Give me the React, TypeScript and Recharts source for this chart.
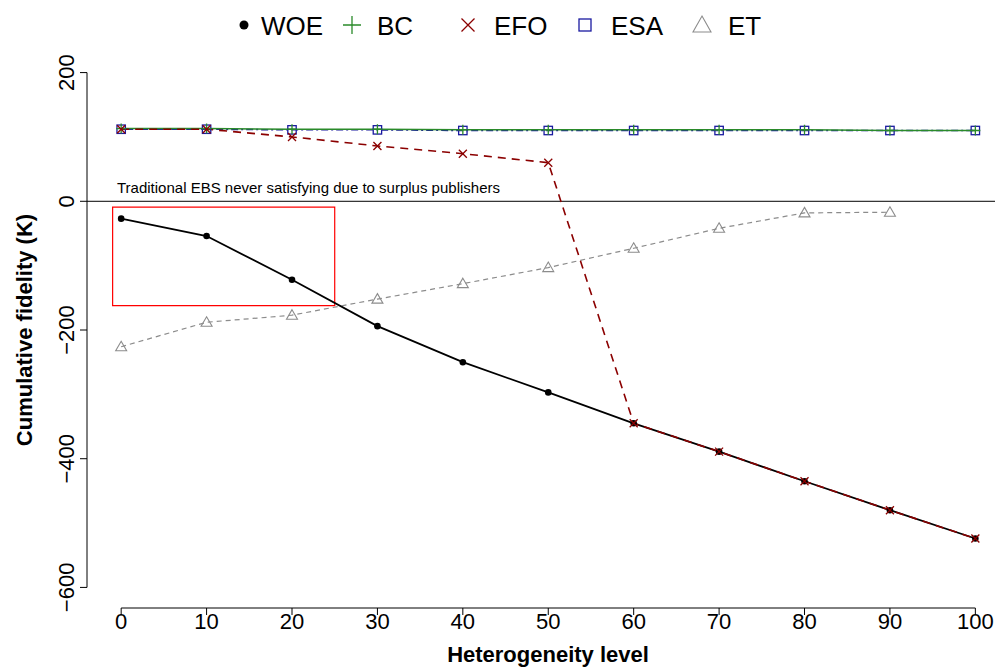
import React from 'react';
import {
  LineChart,
  Line,
  XAxis,
  YAxis,
  ReferenceLine,
  ReferenceArea,
} from 'recharts';

// values
const heterogeneity = [0, 10, 20, 30, 40, 50, 60, 70, 80, 90, 100];
const woe = [-27, -54, -122, -194, -250, -297, -345, -389, -435, -480, -524];
const bc = [113, 113, 112, 112, 111, 111, 111, 111, 111, 110, 110];
const efo = [112, 112, 100, 86, 74, 60, -345, -389, -435, -480, -524];
const esa = [112, 112, 111, 111, 110, 110, 110, 110, 110, 110, 110];
const et = [-226, -188, -177, -152, -128, -103, -73, -42, -18, -17, null];

const xTicks = [0, 10, 20, 30, 40, 50, 60, 70, 80, 90, 100];
const yTicks = [-600, -400, -200, 0, 200];

const data = heterogeneity.map((x, i) => ({
  x,
  woe: woe[i],
  bc: bc[i],
  efo: efo[i],
  esa: esa[i],
  et: et[i],
}));

const FONT = '"Liberation Sans", Arial, Helvetica, sans-serif';

const GREEN = '#2a8a2a';
const RED = '#8b0000';
const BLUE = '#1a1aa0';
const GREY = '#8c8c8c';

const fmt = (v: number) => (v < 0 ? '\u2212' + Math.abs(v) : String(v));

const DotMark = (p: any) => (
  <circle key={`w${p.index}`} cx={p.cx} cy={p.cy} r={3.3} fill="#000" />
);
const PlusMark = (p: any) => (
  <path
    key={`b${p.index}`}
    d={`M${p.cx - 5},${p.cy}H${p.cx + 5}M${p.cx},${p.cy - 5}V${p.cy + 5}`}
    stroke={GREEN}
    strokeWidth={1.3}
    fill="none"
  />
);
const CrossMark = (p: any) => (
  <path
    key={`e${p.index}`}
    d={`M${p.cx - 4},${p.cy - 4}L${p.cx + 4},${p.cy + 4}M${p.cx - 4},${p.cy + 4}L${p.cx + 4},${p.cy - 4}`}
    stroke={RED}
    strokeWidth={1.3}
    fill="none"
  />
);
const SquareMark = (p: any) => (
  <rect
    key={`s${p.index}`}
    x={p.cx - 4.2}
    y={p.cy - 4.2}
    width={8.4}
    height={8.4}
    stroke={BLUE}
    strokeWidth={1.3}
    fill="none"
  />
);
const TriMark = (p: any) =>
  p.cy == null || isNaN(p.cy) ? (
    <g key={`t${p.index}`} />
  ) : (
    <path
      key={`t${p.index}`}
      d={`M${p.cx},${p.cy - 5.5}L${p.cx + 5.5},${p.cy + 4}L${p.cx - 5.5},${p.cy + 4}Z`}
      stroke={GREY}
      strokeWidth={1.1}
      fill="none"
    />
  );

const XTick = (p: any) => (
  <text x={p.x} y={p.y + 12} textAnchor="middle" fontSize={22} fontFamily={FONT} fill="#000">
    {fmt(p.payload.value)}
  </text>
);

const YTick = (p: any) => (
  <text
    x={74}
    y={p.y}
    transform={`rotate(-90, 74, ${p.y})`}
    textAnchor="middle"
    fontSize={22}
    fontFamily={FONT}
    fill="#000"
  >
    {fmt(p.payload.value)}
  </text>
);

const NoteLabel = (p: any) => {
  const vb = p.viewBox || {};
  return (
    <text x={vb.x + 30} y={vb.y - 8} fontSize={15} fontFamily={FONT} fill="#000">
      Traditional EBS never satisfying due to surplus publishers
    </text>
  );
};

const legendItems = [
  { name: 'WOE', sym: 'dot', color: '#000', sx: 244, tx: 261 },
  { name: 'BC', sym: 'plus', color: GREEN, sx: 352, tx: 377 },
  { name: 'EFO', sym: 'cross', color: RED, sx: 468, tx: 494 },
  { name: 'ESA', sym: 'square', color: BLUE, sx: 585, tx: 611 },
  { name: 'ET', sym: 'tri', color: GREY, sx: 702, tx: 728 },
];

const LegendSymbol = ({ sym, color, x, y }: any) => {
  if (sym === 'dot') return <circle cx={x} cy={y} r={4.5} fill={color} />;
  if (sym === 'plus')
    return <path d={`M${x - 9},${y}H${x + 9}M${x},${y - 9}V${y + 9}`} stroke={color} strokeWidth={1.3} />;
  if (sym === 'cross')
    return (
      <path
        d={`M${x - 6.5},${y - 6.5}L${x + 6.5},${y + 6.5}M${x - 6.5},${y + 6.5}L${x + 6.5},${y - 6.5}`}
        stroke={color}
        strokeWidth={1.3}
      />
    );
  if (sym === 'square')
    return <rect x={x - 6} y={y - 6} width={12} height={12} stroke={color} strokeWidth={1.3} fill="none" />;
  return (
    <path d={`M${x},${y - 9}L${x + 9},${y + 7}L${x - 9},${y + 7}Z`} stroke={color} strokeWidth={1.1} fill="none" />
  );
};

export default function App() {
  return (
    <div style={{ position: 'absolute', left: 0, top: 0, width: 995, height: 669, background: '#fff' }}>
      <LineChart
        width={995}
        height={669}
        data={data}
        margin={{ top: 52, right: 0, bottom: 0, left: 0 }}
      >
        <XAxis
          dataKey="x"
          type="number"
          domain={[-4, 102.3]}
          ticks={xTicks}
          allowDataOverflow
          axisLine={false}
          tickLine={{ stroke: '#000' }}
          tickSize={7}
          height={61}
          tick={<XTick />}
          interval={0}
        />
        <YAxis
          type="number"
          domain={[-632, 232]}
          ticks={yTicks}
          allowDataOverflow
          axisLine={false}
          tickLine={{ stroke: '#000' }}
          tickSize={7}
          width={87}
          tick={<YTick />}
          interval={0}
        />
        <ReferenceLine
          segment={[{ x: -4, y: -600 }, { x: -4, y: 200 }]}
          stroke="#000"
          ifOverflow="visible"
        />
        <ReferenceLine
          segment={[{ x: 0, y: -632 }, { x: 100, y: -632 }]}
          stroke="#000"
          ifOverflow="visible"
        />
        <ReferenceLine y={0} stroke="#000" strokeWidth={1} label={<NoteLabel />} />
        <ReferenceArea
          x1={-1}
          x2={25}
          y1={-162}
          y2={-9}
          fill="none"
          fillOpacity={0}
          stroke="#ff0000"
          strokeWidth={1.2}
        />
        <Line
          dataKey="et"
          stroke={GREY}
          strokeWidth={1.2}
          strokeDasharray="5 4"
          dot={TriMark}
          isAnimationActive={false}
        />
        <Line
          dataKey="esa"
          stroke={BLUE}
          strokeWidth={1.5}
          strokeDasharray="2 3 7 3"
          dot={SquareMark}
          isAnimationActive={false}
        />
        <Line
          dataKey="bc"
          stroke={GREEN}
          strokeWidth={1.5}
          dot={PlusMark}
          isAnimationActive={false}
        />
        <Line
          dataKey="woe"
          stroke="#000"
          strokeWidth={1.8}
          dot={DotMark}
          isAnimationActive={false}
        />
        <Line
          dataKey="efo"
          stroke={RED}
          strokeWidth={1.6}
          strokeDasharray="8 6"
          dot={CrossMark}
          isAnimationActive={false}
        />
      </LineChart>

      {/* legend and axis titles drawn on top */}
      <svg
        width={995}
        height={669}
        style={{ position: 'absolute', left: 0, top: 0, pointerEvents: 'none' }}
      >
        {legendItems.map((it) => (
          <g key={it.name}>
            <LegendSymbol sym={it.sym} color={it.color} x={it.sx} y={25} />
            <text x={it.tx} y={35} fontSize={26} fontFamily={FONT} fill="#000">
              {it.name}
            </text>
          </g>
        ))}
        <text
          x={548}
          y={662}
          textAnchor="middle"
          fontSize={22}
          fontWeight="bold"
          fontFamily={FONT}
          fill="#000"
        >
          Heterogeneity level
        </text>
        <text
          x={32}
          y={330}
          transform="rotate(-90, 32, 330)"
          textAnchor="middle"
          fontSize={22}
          fontWeight="bold"
          fontFamily={FONT}
          fill="#000"
        >
          Cumulative fidelity (K)
        </text>
      </svg>
    </div>
  );
}
